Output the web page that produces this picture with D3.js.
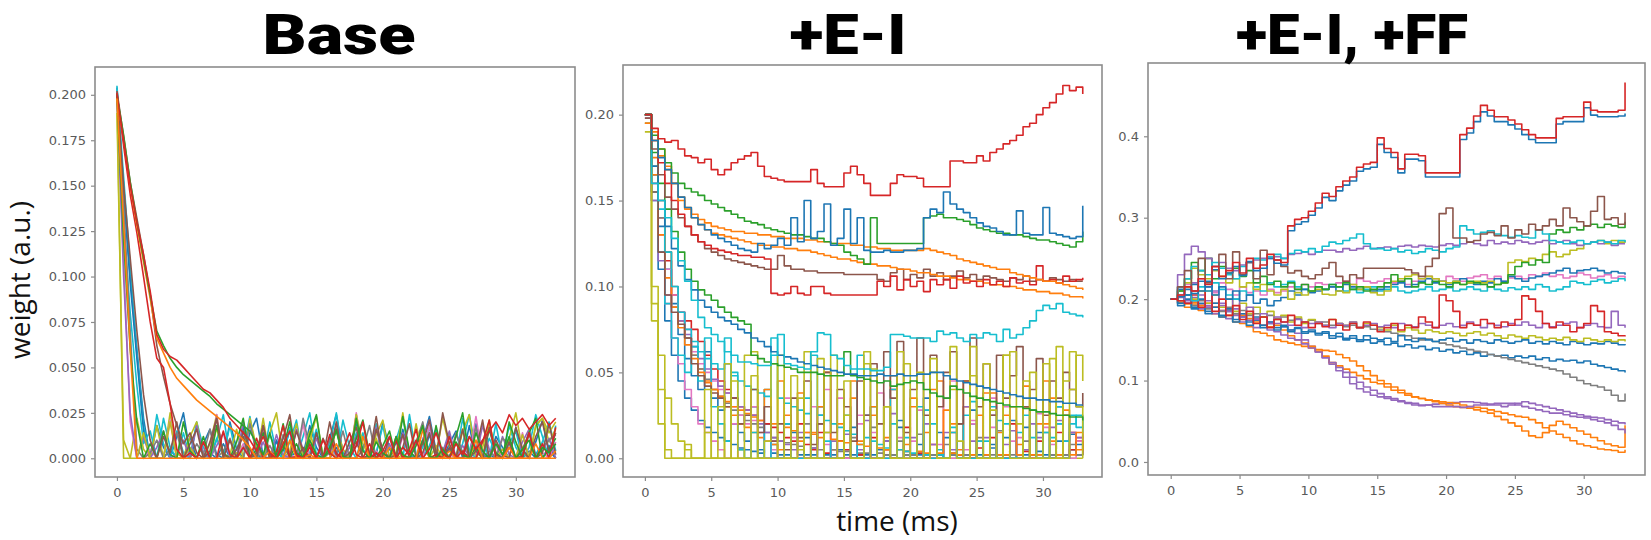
<!DOCTYPE html>
<html>
<head>
<meta charset="utf-8">
<script src="https://cdn.jsdelivr.net/npm/d3@7"></script>
<style>
  body { margin: 0; background: #fff; }
  svg { display: block; }
</style>
</head>
<body>
<svg id="chart" width="1651" height="540"></svg>
<script>
// Sample times (ms)
const time = [0,0.5,1,1.5,2,2.5,3,3.5,4,4.5,5,5.5,6,6.5,7,7.5,8,8.5,9,9.5,10,10.5,11,11.5,12,12.5,13,13.5,14,14.5,
  15,15.5,16,16.5,17,17.5,18,18.5,19,19.5,20,20.5,21,21.5,22,22.5,23,23.5,24,24.5,25,25.5,26,26.5,27,27.5,28,28.5,29,29.5,
  30,30.5,31,31.5,32,32.5,33];

const panelTitles = ["Base", "+E-I", "+E-I, +FF"];
const xTicks = [0, 5, 10, 15, 20, 25, 30];
const yTicksBase = [0, 0.025, 0.05, 0.075, 0.1, 0.125, 0.15, 0.175, 0.2];
const yTicksEI = [0, 0.05, 0.1, 0.15, 0.2];
const yTicksFF = [0, 0.1, 0.2, 0.3, 0.4];

// weights, in units of 0.001 (a.u.)
const baseSeries = [
  [204,150,100,60,22,0,18,6,0,12,25,3,0,8,16,2,0,20,5,0,14,22,1,0,9,4,15,0,2,18,6,0,11,24,3,0,7,13,0,2,20,5,0,16,1,0,10,23,4,0,8,15,0,3,19,2,0,12,6,0,17,3,0,9,21,4,0],
  [205,155,105,58,18,0,24,8,0,15,3,0,20,6,0,11,2,18,0,5,23,1,0,13,4,0,9,21,0,3,16,0,7,25,2,0,14,5,0,19,1,0,10,22,3,0,6,17,0,2,13,0,8,24,4,0,11,3,0,18,6,0,15,2,9,20,4],
  [200,146,96,55,15,0,0,0,5,0,0,12,0,0,3,0,8,0,0,17,0,2,0,0,10,0,0,4,0,0,14,0,0,6,0,0,20,0,0,3,0,0,9,0,1,0,0,13,0,0,5,0,0,18,0,0,2,0,0,11,0,0,4,0,0,7,0],
  [203,130,80,40,8,15,0,22,6,0,14,0,19,2,0,10,24,0,5,15,0,8,0,20,3,0,17,0,12,25,2,0,9,0,21,6,0,14,0,3,18,0,11,0,24,2,0,7,16,0,13,0,22,4,0,10,0,19,0,8,15,0,6,24,12,0,18],
  [200,0,0,22,5,0,18,0,25,3,0,12,20,0,8,24,0,2,16,0,22,6,0,14,25,0,4,19,0,10,23,1,0,17,5,0,24,8,0,13,21,0,3,25,0,9,18,0,2,22,7,0,15,24,0,6,20,3,0,11,25,4,0,18,22,9,16],
  [200,110,20,0,0,5,0,0,21,0,0,3,0,0,0,24,0,0,0,8,0,0,15,0,0,0,2,0,19,0,0,0,6,0,0,0,25,0,0,4,0,0,0,12,0,0,0,18,0,0,2,0,0,0,23,0,0,7,0,0,0,14,0,0,3,0,9],
  [200,100,25,0,12,0,6,15,0,2,10,0,18,3,0,7,14,0,1,20,4,0,9,0,13,2,0,16,5,0,11,0,3,19,0,6,12,0,2,17,0,8,0,14,4,0,10,21,0,3,15,0,7,1,0,18,5,0,12,2,0,9,16,0,4,11,0],
  [202,140,70,5,0,3,10,0,5,14,0,0,8,2,16,0,4,11,0,0,19,3,0,7,0,13,1,0,22,6,0,0,10,2,15,0,0,5,18,0,3,0,12,0,0,9,20,1,0,6,0,14,3,0,17,0,4,0,11,8,0,2,15,0,6,10,13],
  [190,10,0,0,14,0,0,0,20,0,0,6,0,0,0,17,0,0,3,0,0,0,22,0,0,9,0,0,0,15,0,0,4,0,0,0,24,0,0,11,0,0,0,2,0,19,0,0,7,0,0,0,16,0,0,0,21,0,5,0,0,13,0,18,22,14,20],
  [200,120,60,20,0,8,0,15,2,0,20,4,0,12,0,18,3,0,9,22,0,5,14,0,2,19,0,8,0,13,24,0,4,16,0,0,11,21,2,0,7,15,0,23,4,0,10,0,18,2,0,12,25,0,6,0,16,3,0,20,9,0,14,22,0,5,11],
  [201,150,110,70,35,10,0,12,3,20,0,8,16,0,4,22,0,10,0,15,5,0,18,2,0,11,24,0,6,0,14,0,20,3,0,9,17,0,2,23,0,12,0,6,19,0,3,14,0,25,8,0,16,0,4,21,0,10,2,0,17,5,0,12,20,3,14],
  [202,177,152,132,112,90,62,45,30,18,8,14,3,0,9,22,2,0,5,12,0,3,18,0,0,7,1,15,4,0,0,11,2,20,0,3,9,0,0,16,5,0,2,13,0,0,8,21,3,0,6,1,0,12,4,0,17,2,0,9,0,5,14,0,3,19,2],
  [201,172,145,124,100,75,55,50,30,5,0,3,0,9,0,0,15,2,0,6,0,11,0,0,4,18,0,1,0,8,0,0,13,2,0,0,7,20,0,3,0,0,10,0,5,16,0,0,2,0,12,0,4,0,0,9,21,0,0,6,0,1,14,0,8,0,17],
  [198,176,150,128,108,88,66,58,50,44,40,36,32,29,26,23,20,17,14,10,6,0,0,4,0,0,10,0,0,2,0,0,0,8,0,0,0,12,0,0,0,6,0,0,0,0,16,0,0,0,4,0,0,0,10,0,0,0,0,6,0,0,0,8,0,0,4],
  [200,178,152,130,110,90,70,62,55,50,46,43,40,37,34,30,27,24,21,18,15,8,2,14,0,5,20,3,0,10,2,0,6,15,1,0,22,4,0,9,3,0,12,2,0,7,18,1,0,5,0,9,2,0,14,4,0,8,2,12,0,5,10,0,6,3,8],
  [200,175,150,130,112,92,68,60,56,54,50,46,42,38,36,32,28,22,18,14,10,4,12,3,0,8,15,2,0,6,0,10,3,0,5,14,2,0,8,0,4,12,0,6,2,10,0,5,14,3,0,8,2,12,5,10,15,20,14,24,18,22,16,20,24,18,22],
  [198,130,60,0,0,0,0,0,0,0,0,0,0,0,0,0,0,0,0,0,0,0,0,0,0,0,0,0,0,0,0,0,0,0,0,0,0,0,0,0,0,0,0,0,0,0,0,0,0,0,0,0,0,0,0,0,0,0,0,0,0,0,0,0,0,0,0]
];
const baseColors = ["blue","cyan","blue","cyan","olive","pink","purple","gray","olive","green","brown","brown","red","orange","green","red","orange"];

const eiSeries = [
  [190,80,20,0,0,0,0,0,0,0,0,0,0,0,5,0,0,0,0,0,0,0,0,0,0,0,0,0,0,0,0,0,0,0,0,0,0,0,0,0,0,0,0,0,0,0,0,0,0,0,0,0,0,0,0,0,0,0,0,0,0,0,0,0,0,0,0],
  [200,150,110,80,60,45,35,28,22,18,15,12,10,8,6,5,4,3,20,3,2,2,15,2,2,2,30,2,2,10,2,2,2,25,2,5,2,2,18,2,2,2,35,2,2,12,2,2,2,28,2,2,8,2,2,22,2,2,2,15,2,2,30,2,5,2,10],
  [200,165,135,110,90,72,58,48,40,62,35,28,55,20,15,10,30,5,0,8,0,20,0,0,12,0,25,0,0,5,0,18,0,2,0,0,10,0,22,0,0,8,0,0,15,0,3,0,0,20,0,0,6,0,12,0,0,18,0,4,0,0,10,0,14,8,5],
  [200,160,120,90,70,55,40,30,20,15,10,5,0,20,0,0,30,0,0,10,0,35,0,0,15,0,0,40,0,0,5,0,25,0,0,38,0,0,12,0,0,28,0,0,8,0,45,0,0,20,0,0,35,0,0,10,0,30,0,0,18,0,0,25,0,12,8],
  [200,175,150,120,95,80,70,60,52,45,40,35,30,25,20,18,15,12,10,8,5,25,0,10,0,15,30,0,5,20,0,35,10,0,25,0,12,40,0,8,30,0,15,0,45,0,20,5,30,0,10,38,0,15,25,0,8,30,0,20,45,10,0,25,15,5,10],
  [200,170,140,115,95,85,80,75,68,60,52,45,40,35,30,28,25,22,20,18,15,12,10,20,8,5,15,3,0,10,5,0,2,0,12,0,5,0,0,18,0,3,0,8,0,0,15,2,0,0,6,0,12,0,0,20,0,4,0,10,0,0,15,0,5,10,2],
  [200,165,140,120,100,85,70,60,52,46,40,36,32,28,25,22,20,18,15,12,10,9,8,7,20,6,5,15,5,4,4,12,3,3,18,3,2,2,10,2,2,14,2,2,2,8,2,20,2,2,12,2,2,16,2,2,2,10,2,2,15,2,2,2,8,2,3],
  [198,160,130,110,95,85,75,62,55,50,45,40,38,30,25,20,22,15,10,5,0,0,12,0,0,30,0,8,0,35,0,0,20,0,15,0,0,40,0,0,10,0,28,0,0,35,0,0,5,22,0,0,18,0,30,0,12,0,0,26,0,8,20,0,15,10,18],
  [200,150,115,95,88,80,72,65,58,52,46,42,38,35,30,28,25,20,15,12,10,8,5,15,0,6,20,0,10,0,14,0,5,22,0,0,10,26,0,4,12,0,20,8,0,15,5,0,30,10,0,12,25,0,8,16,0,5,20,12,0,18,22,10,15,12,14],
  [200,155,120,90,70,60,50,65,45,70,30,20,10,50,5,0,15,0,40,0,0,20,0,0,35,0,0,10,0,0,25,0,8,0,30,0,0,20,0,12,0,0,28,0,5,0,18,0,0,33,0,10,0,22,0,0,15,0,28,0,0,12,20,0,25,18,22],
  [200,165,130,105,88,76,66,58,50,44,40,36,33,30,28,26,24,22,40,20,45,18,16,38,15,14,12,50,11,10,9,45,8,7,30,6,5,48,5,4,35,4,3,40,3,28,3,2,45,2,25,2,38,2,2,30,2,42,2,2,20,35,2,28,2,15,5],
  [200,170,145,120,100,85,75,68,62,58,55,52,70,48,45,42,40,38,36,70,35,32,30,28,26,60,25,22,20,18,16,14,60,12,10,8,6,40,5,4,3,30,2,20,2,0,15,0,25,0,10,0,30,0,20,0,0,25,12,0,15,0,30,10,20,25,15],
  [195,155,120,95,85,78,70,55,48,42,38,35,30,35,20,25,40,15,30,10,20,5,35,12,45,8,20,50,15,40,30,10,45,25,55,20,62,35,68,15,40,70,25,60,30,50,62,20,45,70,30,55,25,60,35,48,65,30,40,58,25,45,35,50,40,30,38],
  [200,90,40,5,0,0,8,0,0,15,0,30,0,45,0,60,62,0,10,55,0,0,48,5,62,0,0,15,60,0,25,0,0,55,52,0,30,0,62,0,0,50,0,58,0,0,65,10,0,48,0,55,0,0,60,62,20,0,50,0,0,58,0,45,62,30,0],
  [195,100,60,35,20,10,5,0,0,40,0,0,55,0,0,0,48,0,0,0,60,0,0,35,0,0,58,0,0,0,45,0,0,62,0,0,30,0,0,55,0,0,0,50,0,0,40,0,0,65,0,0,28,0,60,0,0,45,0,0,55,0,65,0,40,60,45],
  [200,178,160,145,132,120,110,103,98,95,92,88,85,82,80,78,60,58,56,55,54,53,52,50,50,50,49,48,48,48,62,48,47,46,45,44,45,42,43,44,45,44,40,38,36,35,42,40,38,36,35,34,33,32,31,30,30,29,28,27,27,26,25,25,24,24,22],
  [200,170,150,135,122,112,104,98,92,88,85,82,80,78,75,73,70,68,65,62,60,59,58,56,55,54,53,52,51,50,49,49,48,48,48,49,48,48,49,48,48,49,49,50,50,48,46,45,44,43,42,41,40,39,38,37,36,35,35,34,34,33,33,32,32,31,31],
  [200,160,150,140,128,115,103,92,82,76,72,68,62,60,56,56,55,54,54,60,72,55,54,53,52,62,73,72,60,58,54,52,52,52,51,51,53,72,72,71,70,70,70,68,74,72,73,70,68,72,70,73,72,68,75,70,72,76,80,86,89,87,90,85,84,83,82],
  [198,180,165,152,145,140,135,130,126,122,120,118,116,115,114,113,112,111,110,110,118,112,110,110,109,109,108,108,108,108,107,107,107,107,107,104,103,108,110,104,107,105,110,106,108,104,106,109,105,107,104,106,105,104,103,105,104,106,103,104,103,105,104,103,104,103,103],
  [195,185,176,168,160,152,145,140,136,133,131,130,129,128,127,126,125,124,124,123,123,122,122,121,121,120,119,118,117,116,116,115,114,113,113,112,112,111,110,110,109,108,108,107,106,106,105,104,104,103,103,102,101,101,100,100,99,98,98,97,97,96,96,95,94,94,93],
  [200,185,172,160,150,142,135,130,126,124,122,121,120,119,118,118,117,117,116,96,95,96,100,96,95,100,100,96,95,95,95,95,95,95,95,103,100,106,98,104,100,103,97,104,101,104,99,106,102,103,100,104,101,103,100,105,102,103,101,112,103,104,102,106,103,104,105],
  [200,190,180,170,160,150,146,142,139,137,135,134,133,132,132,131,131,130,130,129,129,128,128,128,127,127,126,126,125,125,125,124,124,123,123,122,122,121,121,121,121,121,122,121,120,119,118,116,115,114,113,112,111,110,110,108,107,106,105,104,103,103,102,101,100,99,98],
  [200,188,180,172,166,160,157,155,153,150,148,146,144,142,140,138,137,136,134,133,132,131,130,130,129,128,128,126,125,124,120,118,116,113,140,125,125,125,125,125,125,125,140,141,142,140,140,139,138,136,134,133,132,131,131,130,130,129,128,127,127,126,125,124,123,126,132],
  [200,185,175,168,160,152,146,140,136,133,130,128,126,124,122,121,120,125,122,124,128,124,140,126,150,128,132,148,124,128,145,125,140,121,120,120,121,120,120,121,121,122,140,145,143,155,148,145,143,140,137,135,134,132,130,130,144,131,130,130,146,131,130,129,128,129,147],
  [200,192,186,184,185,180,176,175,172,174,168,165,168,172,174,176,178,170,164,163,162,161,161,161,161,168,160,158,158,158,166,170,165,160,153,153,153,160,165,164,164,163,158,158,158,158,173,173,172,172,176,173,178,180,183,185,188,193,195,200,204,207,212,217,214,216,212]
];
const eiColors = ["olive","blue","blue","pink","orange","red","gray","pink","purple","cyan","orange","cyan","brown","olive","olive","green","blue","cyan","brown","orange","red","orange","green","blue","red"];

const ffSeries = [
  [200,205,198,202,194,198,190,192,186,188,180,182,176,178,172,170,166,162,158,150,142,135,128,120,112,104,96,90,86,82,80,78,76,74,72,70,69,70,71,72,72,73,74,74,73,72,70,70,68,70,72,74,72,70,68,66,64,62,60,58,56,55,54,52,50,48,46],
  [200,196,190,194,186,190,182,178,180,172,170,166,160,158,155,150,148,146,144,142,140,138,137,136,132,128,124,118,112,106,100,96,92,88,84,80,78,76,74,72,70,68,67,66,64,62,60,56,52,48,44,38,32,30,36,45,50,46,42,38,34,30,26,22,20,18,45],
  [200,198,194,196,192,195,190,186,188,182,180,176,172,168,166,168,162,155,150,146,142,136,130,122,118,114,110,106,102,98,96,92,88,85,82,80,78,76,75,74,73,72,70,68,67,66,64,62,60,58,56,55,52,48,42,38,34,30,26,22,20,18,16,15,14,12,15],
  [200,202,195,198,188,192,182,186,176,180,172,174,165,168,162,160,156,152,150,145,140,135,128,122,116,110,104,98,92,88,84,80,78,75,73,72,70,70,68,68,68,68,67,68,70,70,71,72,72,72,70,68,66,64,62,60,60,58,56,55,54,52,50,48,45,40,35],
  [200,192,200,188,195,182,190,178,185,172,178,168,174,165,170,162,166,160,164,158,160,156,158,152,154,150,152,148,150,146,148,144,146,142,144,140,142,138,140,136,138,134,136,132,134,130,132,130,131,128,130,128,130,126,128,124,126,124,125,122,124,120,118,116,114,112,110],
  [200,195,205,192,198,188,195,185,190,182,186,180,182,178,180,176,178,174,176,172,174,170,172,168,170,166,168,165,166,163,162,160,158,156,155,152,150,151,148,146,144,142,140,138,136,135,132,130,128,126,124,122,120,118,116,114,112,108,104,100,96,94,92,88,82,75,84],
  [200,195,205,190,200,185,195,180,188,175,182,172,178,168,172,165,168,162,165,160,162,158,160,155,158,152,155,150,155,152,150,152,148,155,150,148,152,150,148,150,152,148,150,146,150,148,146,150,148,146,148,150,146,148,145,148,146,144,148,146,144,146,145,148,146,144,145],
  [200,205,215,200,210,195,205,190,200,185,195,182,190,178,185,175,180,172,178,170,175,172,168,175,170,168,172,165,170,168,165,162,168,160,165,162,158,162,160,158,160,158,155,158,160,156,158,155,152,156,154,152,155,153,150,152,150,153,150,148,152,150,148,150,148,150,148],
  [200,215,195,220,205,190,210,195,185,200,178,190,175,182,170,178,172,168,175,165,170,172,168,165,170,168,172,165,168,170,166,168,165,170,168,166,170,168,165,168,170,166,168,172,168,165,170,168,166,170,168,172,168,165,170,166,168,170,172,165,168,170,166,165,185,168,165],
  [200,198,195,205,190,210,185,200,180,192,175,185,170,178,165,175,172,180,168,172,165,170,166,175,168,162,170,165,172,168,160,165,170,162,168,165,178,172,165,205,198,185,165,170,168,175,170,165,172,168,175,204,200,185,170,165,172,168,160,165,170,192,185,160,158,155,154],
  [200,205,218,210,225,215,208,220,212,205,215,208,210,205,212,208,210,215,212,218,215,220,218,215,220,222,218,225,222,220,222,225,220,222,218,222,225,228,225,222,228,225,222,226,228,230,225,228,222,226,228,225,230,228,232,228,230,226,228,232,230,226,228,230,226,228,226],
  [200,210,205,198,215,210,220,212,205,200,210,205,215,210,220,215,218,222,215,212,210,215,212,218,215,210,212,208,212,215,210,212,215,210,208,210,212,215,210,212,214,210,212,215,212,210,215,212,210,214,212,215,212,218,215,210,212,215,222,220,218,222,224,220,222,225,222],
  [200,212,205,218,210,222,205,215,200,210,198,205,195,200,192,198,202,210,205,212,208,210,212,215,210,218,215,212,215,210,212,215,218,220,215,218,222,225,220,222,218,222,225,220,218,222,220,225,222,228,225,222,226,228,230,232,235,238,232,235,236,238,235,232,234,232,230],
  [200,210,220,238,230,225,235,228,220,225,215,220,212,218,210,205,212,200,208,205,210,212,206,205,210,208,218,212,215,208,205,210,222,225,228,230,225,228,225,222,220,222,218,220,222,220,222,218,220,245,248,246,250,248,255,258,252,255,260,262,268,270,272,268,272,270,272],
  [200,210,225,245,235,250,225,240,232,238,228,235,220,228,218,222,215,220,212,218,210,215,212,218,215,220,212,215,210,212,215,220,230,222,225,215,220,218,222,218,215,220,218,222,220,218,215,218,220,230,240,245,242,248,245,280,285,282,288,285,290,292,288,292,290,288,295],
  [200,230,255,265,258,250,240,245,238,235,242,245,248,250,250,252,250,255,256,258,255,258,260,260,258,262,260,262,265,262,263,264,262,265,266,264,266,265,264,266,268,266,268,270,268,266,272,268,270,268,272,270,268,270,272,268,270,272,268,266,268,270,268,270,266,268,268],
  [200,215,225,240,235,230,245,238,230,225,240,245,250,248,252,255,250,256,260,258,262,258,265,270,268,272,275,280,268,262,262,260,262,258,260,256,258,262,260,258,262,264,290,285,280,282,284,280,278,276,278,276,275,285,280,272,270,268,270,272,268,270,272,270,268,272,270],
  [200,215,235,210,250,220,240,255,225,258,230,245,225,260,230,248,240,232,235,228,225,230,238,245,228,222,230,226,238,238,238,238,238,238,236,232,228,240,250,305,312,275,275,270,272,280,282,278,290,275,285,280,292,285,290,298,290,312,300,295,290,308,326,298,300,292,306],
  [200,203,212,207,222,215,236,225,232,240,229,246,235,238,250,244,242,284,292,295,303,312,325,321,333,340,345,357,360,362,390,380,374,355,372,372,370,350,350,350,350,350,396,404,418,430,425,418,418,414,409,402,396,392,392,392,415,418,418,418,435,426,424,424,424,425,428],
  [200,205,215,210,225,218,240,228,235,245,232,250,238,242,255,248,245,290,298,300,308,318,330,326,338,345,350,362,366,368,398,385,380,360,378,378,376,355,355,355,355,355,402,410,425,438,432,424,424,420,415,408,402,398,398,398,422,424,424,424,442,432,430,430,430,432,466]
];
const ffColors = ["purple","orange","orange","purple","blue","gray","blue","olive","purple","red","pink","cyan","blue","olive","green","purple","cyan","brown","blue","red"];

const tab10 = {
  blue: "#1f77b4", orange: "#ff7f0e", green: "#2ca02c", red: "#d62728", purple: "#9467bd",
  brown: "#8c564b", pink: "#e377c2", gray: "#7f7f7f", olive: "#bcbd22", cyan: "#17becf"
};

// Layout of the three axes boxes (page pixels)
const panels = [
  { title: panelTitles[0], series: baseSeries, colors: baseColors, ticks: yTicksBase, fmt: d3.format(".3f"),
    curve: d3.curveLinear, yDomain: [-0.0103, 0.2153], box: { x0: 95, x1: 575, y0: 67, y1: 477 },
    titleX: 339, titleW: 153 },
  { title: panelTitles[1], series: eiSeries, colors: eiColors, ticks: yTicksEI, fmt: d3.format(".2f"),
    curve: d3.curveStepAfter, yDomain: [-0.0109, 0.2289], box: { x0: 623, x1: 1102, y0: 65, y1: 477 },
    titleX: 848, titleW: 117 },
  { title: panelTitles[2], series: ffSeries, colors: ffColors, ticks: yTicksFF, fmt: d3.format(".1f"),
    curve: d3.curveStepAfter, yDomain: [-0.016, 0.49], box: { x0: 1148, x1: 1645, y0: 63, y1: 475 },
    titleX: 1352, titleW: 232 }
];
const xDomain = [-1.65, 34.45];

const svg = d3.select("#chart");

// slight softening, the source is a blurry screenshot
svg.append("defs").append("filter")
  .attr("id", "soft")
  .append("feGaussianBlur")
  .attr("stdDeviation", 0.45);

panels.forEach((p, pi) => {
  const { x0, x1, y0, y1 } = p.box;
  const x = d3.scaleLinear().domain(xDomain).range([x0, x1]);
  const y = d3.scaleLinear().domain(p.yDomain).range([y1, y0]);

  const g = svg.append("g").attr("class", "panel");

  g.append("clipPath")
    .attr("id", `clip-${pi}`)
    .append("rect")
    .attr("x", x0).attr("y", y0)
    .attr("width", x1 - x0).attr("height", y1 - y0);

  const line = d3.line()
    .defined((d, i) => i < time.length)
    .curve(p.curve)
    .x((d, i) => x(time[i]))
    .y(d => y(d / 1000));

  g.append("g")
    .attr("clip-path", `url(#clip-${pi})`)
    .attr("filter", "url(#soft)")
    .selectAll("path")
    .data(p.series)
    .join("path")
    .attr("d", line)
    .attr("fill", "none")
    .attr("stroke", (d, i) => tab10[p.colors[i]])
    .attr("stroke-width", 1.6)
    .attr("stroke-linejoin", "round");

  // axes box
  g.append("rect")
    .attr("x", x0).attr("y", y0)
    .attr("width", x1 - x0).attr("height", y1 - y0)
    .attr("fill", "none")
    .attr("stroke", "#8c8c8c")
    .attr("stroke-width", 1.6);

  const yAxis = g.append("g")
    .attr("transform", `translate(${x0},0)`)
    .call(d3.axisLeft(y).tickValues(p.ticks).tickFormat(p.fmt).tickSize(4).tickPadding(5));

  const xAxis = g.append("g")
    .attr("transform", `translate(0,${y1})`)
    .call(d3.axisBottom(x).tickValues(xTicks).tickFormat(d3.format("d")).tickSize(4).tickPadding(7));

  [yAxis, xAxis].forEach(a => {
    a.select(".domain").remove();
    a.selectAll(".tick line").attr("stroke", "#8c8c8c").attr("stroke-width", 1.2);
    a.selectAll(".tick text")
      .attr("fill", "#5a5a5a")
      .style("font-family", "'DejaVu Sans', sans-serif")
      .style("font-size", "13px");
  });

  svg.append("text")
    .attr("x", p.titleX).attr("y", 54)
    .attr("text-anchor", "middle")
    .attr("textLength", p.titleW)
    .attr("lengthAdjust", "spacingAndGlyphs")
    .style("font-family", "Roboto, sans-serif")
    .style("font-weight", 900)
    .style("font-size", "56px")
    .attr("fill", "#000")
    .text(p.title);
});

svg.append("text")
  .attr("transform", "translate(30,280) rotate(-90)")
  .attr("text-anchor", "middle")
  .style("font-family", "'Open Sans', sans-serif")
  .style("font-size", "28px")
  .attr("fill", "#111")
  .text("weight (a.u.)");

svg.append("text")
  .attr("x", 897).attr("y", 531)
  .attr("text-anchor", "middle")
  .style("font-family", "'Open Sans', sans-serif")
  .style("font-size", "28px")
  .attr("fill", "#111")
  .text("time (ms)");
</script>
</body>
</html>
